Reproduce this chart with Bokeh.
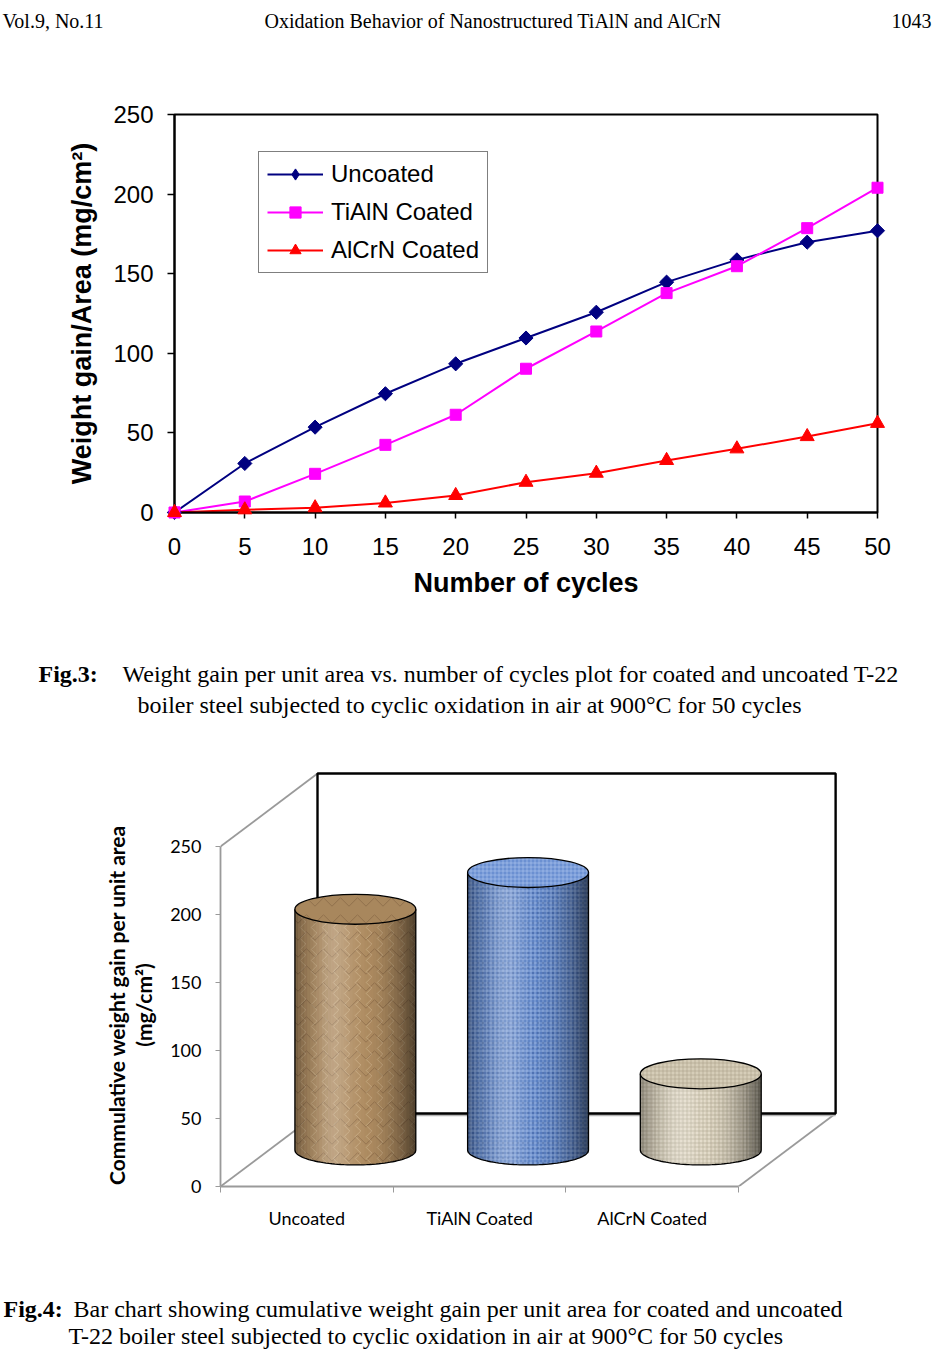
import numpy as np
from bokeh.plotting import figure
from bokeh.models import Range1d, FixedTicker, Legend, LegendItem
from bokeh.embed import file_html
from bokeh.resources import INLINE
from bokeh.core.properties import value

# ---------------- data ----------------
cycles = [0, 5, 10, 15, 20, 25, 30, 35, 40, 45, 50]
uncoated = [0, 30.8, 53.6, 74.6, 93.4, 109.6, 125.8, 144.7, 158.7, 169.8, 177.0]
tialn_coated = [0, 6.9, 24.3, 42.5, 61.4, 90.3, 113.7, 137.8, 154.7, 178.6, 204.0]
alcrn_coated = [0, 1.7, 3.0, 6.0, 10.7, 19.0, 24.7, 32.7, 40.0, 47.7, 56.0]
series_labels = ["Uncoated", "TiAlN Coated", "AlCrN Coated"]
weight_ticks = [0, 50, 100, 150, 200, 250]

bar_categories = ["Uncoated", "TiAlN Coated", "AlCrN Coated"]
bar_values = [177, 204, 56]
bar_ytitle = ["Commulative weight gain per unit area", "(mg/cm\u00b2)"]

header_texts = ["Vol.9, No.11",
                "Oxidation Behavior of Nanostructured TiAlN and AlCrN",
                "1043"]
fig3_tag = "Fig.3:"
fig3_lines = ["Weight gain per unit area vs. number of cycles plot for coated and uncoated T-22",
              "boiler steel subjected to cyclic oxidation in air at 900\u00b0C for 50 cycles"]
fig4_tag = "Fig.4:"
fig4_lines = ["Bar chart showing cumulative weight gain per unit area for coated and uncoated",
              "T-22 boiler steel subjected to cyclic oxidation in air at 900\u00b0C for 50 cycles"]

# ---------------- helpers ----------------
W = 932
SERIF = value("Liberation Serif")
SANS = "Liberation Sans"
LATO = "Lato"


def text_panel(h):
    f = figure(width=W, height=h, x_range=Range1d(0, W), y_range=Range1d(h, 0),
               output_backend="svg", toolbar_location=None, min_border=0,
               x_axis_location=None, y_axis_location=None)
    f.grid.visible = False
    f.outline_line_color = None
    return f


def put(f, x, y, s, size, align="left", bold=False):
    f.text(x=[x], y=[y], text=[s], text_font=SERIF, text_font_size=size,
           text_align=align, text_baseline="alphabetic", text_color="black",
           text_font_style="bold" if bold else "normal")


# ---------------- header ----------------
hdr = text_panel(40)
put(hdr, 2, 20, header_texts[0], "20px", "left")
put(hdr, 493, 20, header_texts[1], "20px", "center")
put(hdr, 931, 20, header_texts[2], "20px", "right")

# ---------------- Fig.3 line chart ----------------
p = figure(width=W, height=580, x_range=Range1d(0, 50), y_range=Range1d(0, 250),
           output_backend="svg", toolbar_location=None,
           min_border_left=174, min_border_right=55, min_border_top=74, min_border_bottom=108)
p.grid.visible = False
p.outline_line_color = "black"
p.outline_line_width = 2
p.xaxis.ticker = FixedTicker(ticks=cycles)
p.yaxis.ticker = FixedTicker(ticks=weight_ticks)
for ax in (p.xaxis[0], p.yaxis[0]):
    ax.axis_line_color = "black"
    ax.axis_line_width = 2
    ax.major_tick_line_color = "black"
    ax.major_tick_line_width = 1.5
    ax.major_tick_in = 0
    ax.minor_tick_line_color = None
    ax.major_label_text_font = SANS
    ax.major_label_text_font_size = "24px"
    ax.major_label_text_color = "black"
    ax.axis_label_text_font = SANS
    ax.axis_label_text_font_size = "27px"
    ax.axis_label_text_font_style = "bold"
    ax.axis_label_text_color = "black"
p.xaxis.major_tick_out = 6
p.yaxis.major_tick_out = 7
p.xaxis.major_label_standoff = 19
p.yaxis.major_label_standoff = 14
p.xaxis.axis_label = "Number of cycles"
p.yaxis.axis_label = "Weight gain/Area (mg/cm\u00b2)"
p.xaxis.axis_label_standoff = 10
p.yaxis.axis_label_standoff = 13

line_colors = ["#000080", "#ff00ff", "#ff0000"]
marker_kinds = ["square", "square", "triangle"]
marker_angles = [np.pi / 4, 0, 0]
marker_sizes = [10, 11, 14]
legend_kinds = ["diamond", "square", "triangle"]
legend_sizes = [17, 11, 14]
items = []
for name, ys, c, m, a, s, lk, ls in zip(series_labels, [uncoated, tialn_coated, alcrn_coated],
                                        line_colors, marker_kinds, marker_angles, marker_sizes,
                                        legend_kinds, legend_sizes):
    ln = p.line(cycles, ys, line_color=c, line_width=2)
    # legend glyph (first point only, hidden beneath the chart's own marker)
    lg = p.scatter(cycles[:1], ys[:1], marker=lk, size=ls, fill_color=c, line_color=c)
    p.scatter(cycles, ys, marker=m, size=s, angle=a, fill_color=c, line_color=c,
              level="overlay")
    items.append(LegendItem(label=name, renderers=[ln, lg]))

legend = Legend(items=items, location=(84, 239), orientation="vertical",
                label_text_font=SANS, label_text_font_size="24px", label_text_color="black",
                glyph_width=56, glyph_height=28, label_height=28, label_standoff=8,
                spacing=10, padding=8, margin=0,
                border_line_color="black", border_line_width=1,
                background_fill_color="white", background_fill_alpha=1)
p.add_layout(legend)

# ---------------- Fig.3 caption ----------------
cap3 = text_panel(120)
put(cap3, 38, 53, fig3_tag, "24px", bold=True)
put(cap3, 122, 53, fig3_lines[0], "24px")
put(cap3, 137, 84, fig3_lines[1], "24px")

# ---------------- Fig.4 3-D cylinder chart ----------------
n_cat = len(bar_categories)
dx, dy = 0.5617, 53.7          # depth offset (category units, value units)
top_val = weight_ticks[-1]
q = figure(width=W, height=530, x_range=Range1d(0, 3.59), y_range=Range1d(0, 305.9),
           output_backend="svg", toolbar_location=None,
           min_border_left=220, min_border_right=92, min_border_top=30, min_border_bottom=84)
q.grid.visible = False
q.outline_line_color = None

grey = "#9a9a9a"
# side wall / floor edges
q.segment(x0=[0, 0, n_cat], y0=[0, top_val, 0], x1=[dx, dx, n_cat + dx],
          y1=[dy, top_val + dy, dy], line_color=grey, line_width=1.8)
q.line([dx, n_cat + dx], [dy - 1.3, dy - 1.3], line_color="#b5b5b5", line_width=2)
# back wall
q.line([dx, n_cat + dx, n_cat + dx, dx, dx],
       [dy, dy, top_val + dy, top_val + dy, dy], line_color="black", line_width=2.4)

body_fill = ["#b08d62", "#5a80c4", "#e3dbc9"]
top_fill = ["#a8875d", "#6b90d2", "#d6cdb8"]
hatch_kind = ["v", "+", "+"]
hatch_col = ["#5e4327", "#b9cff3", "#a0957c"]
hatch_alp = [0.35, 0.5, 0.45]
hatch_scl = [17, 4, 4]
hatch2_kind = [">", ".", ":"]
hatch2_col = ["#e8d4b0", "#2f4f8f", "#c9bea4"]
hatch2_alp = [0.35, 0.35, 0.35]
hatch2_scl = [11, 5, 6]

cyl_w = 0.70
ell_h = 22.0
n_strip = 40
u = -1 + (2 * np.arange(n_strip) + 1) / n_strip
dark_alpha = 0.55 * np.clip(u, 0, None) ** 2.2 + 0.32 * np.clip(-u, 0, None) ** 3
light_alpha = 0.22 * np.exp(-((u + 0.35) / 0.3) ** 2)
t = np.linspace(np.pi, 2 * np.pi, 60)

for i, v in enumerate(bar_values):
    cx = i + 0.5 + dx / 2
    base = dy / 2
    top = v + dy / 2
    bx = cx + (cyl_w / 2) * np.cos(t)
    by = base + (ell_h / 2) * np.sin(t)
    hatch = dict(hatch_pattern=hatch_kind[i], hatch_color=hatch_col[i],
                 hatch_alpha=hatch_alp[i], hatch_scale=hatch_scl[i], hatch_weight=1)
    hatch2 = dict(hatch_pattern=hatch2_kind[i], hatch_color=hatch2_col[i],
                  hatch_alpha=hatch2_alp[i], hatch_scale=hatch2_scl[i], hatch_weight=1)
    px = np.concatenate([bx, [cx + cyl_w / 2, cx - cyl_w / 2]])
    py = np.concatenate([by, [top, top]])
    q.patch(px, py, fill_color=body_fill[i], line_color=None, **hatch)
    q.patch(px, py, fill_color=None, line_color=None, **hatch2)
    sx = cx + u * cyl_w / 2
    sb = base - (ell_h / 2) * np.sqrt(1 - u ** 2)
    q.vbar(x=sx, bottom=sb, top=[top] * n_strip, width=cyl_w / n_strip * 1.05,
           fill_color="black", fill_alpha=dark_alpha, line_color=None)
    q.vbar(x=sx, bottom=sb, top=[top] * n_strip, width=cyl_w / n_strip * 1.05,
           fill_color="white", fill_alpha=light_alpha, line_color=None)
    q.line(np.concatenate([[cx - cyl_w / 2], bx, [cx + cyl_w / 2]]),
           np.concatenate([[top], by, [top]]), line_color="black", line_width=1.3)
    q.ellipse(x=[cx], y=[top], width=[cyl_w], height=[ell_h], fill_color=top_fill[i],
              line_color="black", line_width=1.3, **hatch)

yax = q.yaxis[0]
yax.ticker = FixedTicker(ticks=weight_ticks)
yax.bounds = (0, top_val)
yax.axis_line_color = grey
yax.axis_line_width = 1.8
yax.major_tick_line_color = grey
yax.major_tick_out = 5
yax.major_tick_in = 0
yax.minor_tick_line_color = None
yax.major_label_text_font = LATO
yax.major_label_text_font_size = "18px"
yax.major_label_text_color = "black"
yax.major_label_standoff = 14

# two-line y title, centred on the 0..250 span as in the reference
q.text(x=[-0.602, -0.446], y=[top_val * 0.534] * 2, text=bar_ytitle, angle=np.pi / 2,
       text_font=value(LATO), text_font_style="bold", text_font_size="21px",
       text_color="black", text_align="center", text_baseline="middle", level="overlay")

xax = q.xaxis[0]
centers = [k + 0.5 for k in range(n_cat)]
xax.ticker = FixedTicker(ticks=centers, minor_ticks=list(range(n_cat + 1)))
overrides = {}
for k, c in zip(centers, bar_categories):
    overrides[k] = c
    overrides[str(k)] = c
xax.major_label_overrides = overrides
xax.bounds = (0, n_cat)
xax.axis_line_color = grey
xax.axis_line_width = 1.8
xax.major_tick_out = 0
xax.major_tick_in = 0
xax.major_tick_line_color = None
xax.minor_tick_out = 6
xax.minor_tick_in = 0
xax.minor_tick_line_color = grey
xax.major_label_text_font = LATO
xax.major_label_text_font_size = "18px"
xax.major_label_text_color = "black"
xax.major_label_standoff = 14

# ---------------- Fig.4 caption ----------------
cap4 = text_panel(80)
put(cap4, 3, 38, fig4_tag, "24px", bold=True)
put(cap4, 73, 38, fig4_lines[0], "24px")
put(cap4, 68, 65, fig4_lines[1], "24px")

open("out.html", "w").write(file_html([hdr, p, cap3, q, cap4], INLINE, title="Oxidation behaviour"))
